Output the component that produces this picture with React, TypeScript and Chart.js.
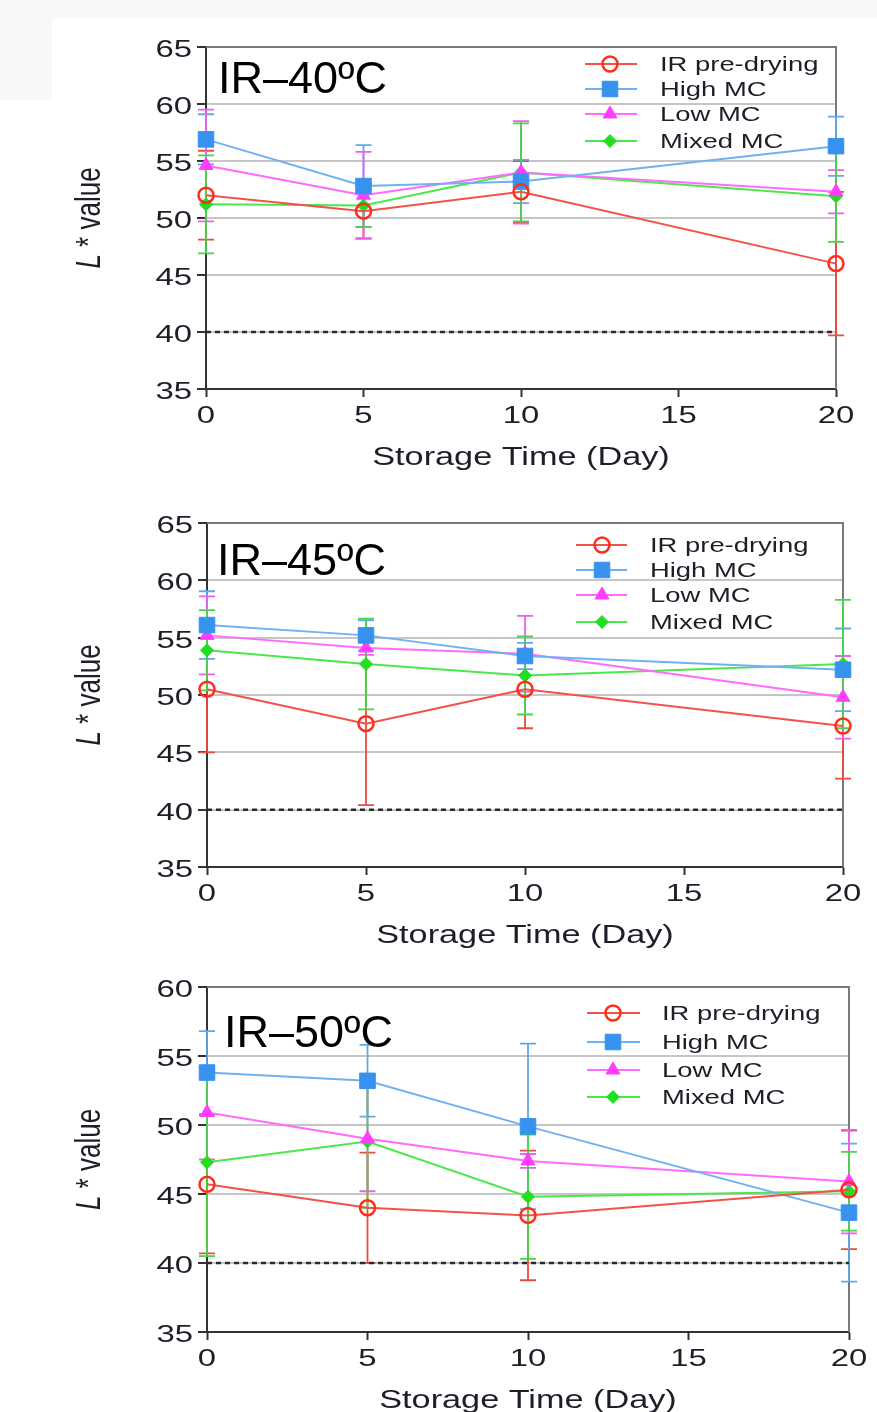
import React, { useEffect, useRef } from 'react';
import { Chart, registerables } from 'chart.js';

Chart.register(...registerables);

// ---------- data ----------
const DAYS = [0, 5, 10, 20];
const X_TICKS = [0, 5, 10, 15, 20];
const Y_TICKS_65 = [35, 40, 45, 50, 55, 60, 65];
const Y_TICKS_60 = [35, 40, 45, 50, 55, 60];
const THRESHOLD = 40;
const SERIES = ['IR pre-drying', 'High MC', 'Low MC', 'Mixed MC'];
const PANEL_TITLES = ['IR–40ºC', 'IR–45ºC', 'IR–50ºC'];
const X_TITLE = 'Storage Time (Day)';
const Y_TITLE_ITALIC = 'L';
const Y_TITLE_REST = ' * value';

// IR–40ºC
const IR40_MEAN = [52.0, 50.6, 52.3, 46.0];
const IR40_SD = [3.9, 2.4, 2.7, 6.3];
const HIGH40_MEAN = [56.9, 52.8, 53.2, 56.3];
const HIGH40_SD = [2.2, 3.6, 1.9, 2.6];
const LOW40_MEAN = [54.6, 52.0, 54.0, 52.3];
const LOW40_SD = [4.9, 3.8, 4.5, 1.9];
const MIXED40_MEAN = [51.2, 51.1, 54.0, 51.9];
const MIXED40_SD = [4.3, 1.9, 4.3, 4.0];

// IR–45ºC
const IR45_MEAN = [50.5, 47.5, 50.5, 47.3];
const IR45_SD = [5.5, 7.1, 3.4, 4.6];
const HIGH45_MEAN = [56.1, 55.2, 53.4, 52.2];
const HIGH45_SD = [2.95, 1.3, 1.15, 3.6];
const LOW45_MEAN = [55.2, 54.1, 53.6, 49.8];
const LOW45_SD = [3.4, 0.6, 3.3, 3.6];
const MIXED45_MEAN = [53.9, 52.7, 51.7, 52.7];
const MIXED45_SD = [3.5, 3.95, 3.4, 5.6];

// IR–50ºC
const IR50_MEAN = [45.7, 44.0, 43.45, 45.3];
const IR50_SD = [5.0, 4.0, 4.7, 4.3];
const HIGH50_MEAN = [53.8, 53.2, 49.9, 43.65];
const HIGH50_SD = [3.0, 2.6, 6.0, 5.0];
const LOW50_MEAN = [50.9, 49.0, 47.4, 45.9];
const LOW50_SD = [3.4, 3.8, 0.5, 3.75];
const MIXED50_MEAN = [47.3, 48.8, 44.8, 45.2];
const MIXED50_SD = [6.8, 4.8, 4.5, 2.85];

// ---------- styles / layout ----------
const W = 877;
const SX = 1.37; // horizontal text stretch of the source image
const FONT = '"Liberation Sans", Arial, sans-serif';
const TEXT = '#1e1e28';

const STYLES = [
  { line: '#f2524a', point: '#ff2d1a', fill: 'rgba(0,0,0,0)', err: '#ee4a3e', style: 'circle', radius: 7.5, bw: 2.5 },
  { line: '#6fb2f2', point: '#3792ef', fill: '#3792ef', err: '#5fa8ee', style: 'rect', radius: 11, bw: 1 },
  { line: '#ff6bff', point: '#ff3cff', fill: '#ff3cff', err: '#ef5eef', style: 'triangle', radius: 8, bw: 1 },
  { line: '#4be84b', point: '#22dd22', fill: '#22dd22', err: '#45d645', style: 'rectRot', radius: 6.5, bw: 1 },
];

const PANELS = [
  {
    title: PANEL_TITLES[0], yMax: 65, yTicks: Y_TICKS_65,
    means: [IR40_MEAN, HIGH40_MEAN, LOW40_MEAN, MIXED40_MEAN],
    sds: [IR40_SD, HIGH40_SD, LOW40_SD, MIXED40_SD],
    geo: { offset: 0, height: 480, left: 206, right: 836, top: 47, bottom: 389,
      titleX: 218, titleY: 93, legLine: [585, 637], legMarker: 610, legText: 660, legRows: [64, 89, 114, 141] },
  },
  {
    title: PANEL_TITLES[1], yMax: 65, yTicks: Y_TICKS_65,
    means: [IR45_MEAN, HIGH45_MEAN, LOW45_MEAN, MIXED45_MEAN],
    sds: [IR45_SD, HIGH45_SD, LOW45_SD, MIXED45_SD],
    geo: { offset: 480, height: 480, left: 207, right: 843, top: 43, bottom: 387,
      titleX: 217, titleY: 95, legLine: [576, 627], legMarker: 602, legText: 650, legRows: [65, 90, 115, 142] },
  },
  {
    title: PANEL_TITLES[2], yMax: 60, yTicks: Y_TICKS_60,
    means: [IR50_MEAN, HIGH50_MEAN, LOW50_MEAN, MIXED50_MEAN],
    sds: [IR50_SD, HIGH50_SD, LOW50_SD, MIXED50_SD],
    geo: { offset: 960, height: 452, left: 207, right: 849, top: 27, bottom: 372,
      titleX: 224, titleY: 87, legLine: [587, 640], legMarker: 613, legText: 662, legRows: [53, 82, 110, 137] },
  },
];

function stretchText(ctx: any, text: string, x: number, y: number, font: string, align: string, color: string, sx = SX) {
  ctx.save();
  ctx.translate(x, y);
  ctx.scale(sx, 1);
  ctx.font = font;
  ctx.fillStyle = color;
  ctx.textAlign = align;
  ctx.textBaseline = 'alphabetic';
  ctx.fillText(text, 0, 0);
  ctx.restore();
}

function drawMarker(ctx: any, st: any, x: number, y: number) {
  const r = st.radius;
  ctx.save();
  ctx.beginPath();
  if (st.style === 'circle') {
    ctx.arc(x, y, r, 0, Math.PI * 2);
  } else if (st.style === 'rect') {
    const s = Math.SQRT1_2 * r;
    ctx.rect(x - s, y - s, 2 * s, 2 * s);
  } else if (st.style === 'triangle') {
    ctx.moveTo(x, y - r);
    ctx.lineTo(x + 0.866 * r, y + 0.5 * r);
    ctx.lineTo(x - 0.866 * r, y + 0.5 * r);
    ctx.closePath();
  } else {
    ctx.moveTo(x, y - r);
    ctx.lineTo(x + r, y);
    ctx.lineTo(x, y + r);
    ctx.lineTo(x - r, y);
    ctx.closePath();
  }
  ctx.fillStyle = st.fill;
  ctx.fill();
  ctx.lineWidth = st.bw;
  ctx.strokeStyle = st.point;
  ctx.stroke();
  ctx.restore();
}

function makePlugin(panel: any) {
  const g = panel.geo;
  return {
    id: 'decor',
    beforeDatasetsDraw(chart: any) {
      const { ctx, chartArea: a, scales } = chart;
      const xs = scales.x, ys = scales.y;
      // frame (top/right)
      ctx.save();
      ctx.strokeStyle = '#7a7a7a';
      ctx.lineWidth = 2;
      ctx.beginPath();
      ctx.moveTo(a.left, a.top);
      ctx.lineTo(a.right, a.top);
      ctx.lineTo(a.right, a.bottom);
      ctx.stroke();
      ctx.restore();
      // error bars
      chart.data.datasets.forEach((ds: any, di: number) => {
        if (!ds.errors) return;
        const st = STYLES[di];
        ctx.save();
        ctx.strokeStyle = st.err;
        ctx.lineWidth = 1.8;
        DAYS.forEach((d, i) => {
          const v = ds.means[i];
          const e = ds.errors[i];
          const x = xs.getPixelForValue(d);
          const y1 = ys.getPixelForValue(v + e);
          const y2 = ys.getPixelForValue(v - e);
          ctx.beginPath();
          ctx.moveTo(x, y1); ctx.lineTo(x, y2);
          ctx.moveTo(x - 8, y1); ctx.lineTo(x + 8, y1);
          ctx.moveTo(x - 8, y2); ctx.lineTo(x + 8, y2);
          ctx.stroke();
        });
        ctx.restore();
      });
    },
    afterDraw(chart: any) {
      const { ctx, chartArea: a, scales } = chart;
      const xs = scales.x, ys = scales.y;
      const tickFont = `24px ${FONT}`;
      ys.ticks.forEach((t: any) => {
        const y = ys.getPixelForValue(t.value);
        stretchText(ctx, String(t.value), a.left - 14, y + 10, tickFont, 'right', TEXT);
      });
      xs.ticks.forEach((t: any) => {
        const x = xs.getPixelForValue(t.value);
        stretchText(ctx, String(t.value), x, a.bottom + 34, tickFont, 'center', TEXT);
      });
      // x title
      stretchText(ctx, X_TITLE, (a.left + a.right) / 2, a.bottom + 76, `25px ${FONT}`, 'center', TEXT);
      // y title (rotated, italic L)
      ctx.save();
      ctx.translate(100, (a.top + a.bottom) / 2);
      ctx.scale(SX, 1);
      ctx.rotate(-Math.PI / 2);
      ctx.fillStyle = TEXT;
      ctx.textBaseline = 'alphabetic';
      ctx.textAlign = 'left';
      const fI = `italic 26px ${FONT}`;
      const fN = `26px ${FONT}`;
      ctx.font = fI;
      const w1 = ctx.measureText(Y_TITLE_ITALIC).width;
      ctx.font = fN;
      const w2 = ctx.measureText(Y_TITLE_REST).width;
      const x0 = -(w1 + w2) / 2;
      ctx.font = fI;
      ctx.fillText(Y_TITLE_ITALIC, x0, 0);
      ctx.font = fN;
      ctx.fillText(Y_TITLE_REST, x0 + w1, 0);
      ctx.restore();
      // panel title
      ctx.save();
      ctx.font = `45px ${FONT}`;
      ctx.fillStyle = '#000';
      ctx.textAlign = 'left';
      ctx.textBaseline = 'alphabetic';
      ctx.fillText(panel.title, g.titleX, g.titleY);
      ctx.restore();
      // legend
      SERIES.forEach((name, i) => {
        const st = STYLES[i];
        const y = g.legRows[i];
        ctx.save();
        ctx.strokeStyle = st.line;
        ctx.lineWidth = 2;
        ctx.beginPath();
        ctx.moveTo(g.legLine[0], y);
        ctx.lineTo(g.legLine[1], y);
        ctx.stroke();
        ctx.restore();
        drawMarker(ctx, st, g.legMarker, y);
        stretchText(ctx, name, g.legText, y + 7, `20px ${FONT}`, 'left', TEXT);
      });
    },
  };
}

function Panel({ panel }: { panel: any }) {
  const ref = useRef<HTMLCanvasElement | null>(null);
  useEffect(() => {
    const g = panel.geo;
    const datasets: any[] = SERIES.map((name, i) => {
      const st = STYLES[i];
      return {
        label: name,
        data: DAYS.map((d, k) => ({ x: d, y: panel.means[i][k] })),
        means: panel.means[i],
        errors: panel.sds[i],
        borderColor: st.line,
        borderWidth: 2,
        pointStyle: st.style,
        pointRadius: st.radius,
        pointBackgroundColor: st.fill,
        pointBorderColor: st.point,
        pointBorderWidth: st.bw,
        tension: 0,
        clip: false,
        order: 0,
      };
    });
    datasets.push({
      label: 'threshold',
      data: [{ x: X_TICKS[0], y: THRESHOLD }, { x: X_TICKS[X_TICKS.length - 1], y: THRESHOLD }],
      borderColor: '#2a2a2a',
      borderWidth: 2.5,
      borderDash: [5, 4],
      pointRadius: 0,
      clip: false,
      order: 10,
    });
    const chart = new Chart(ref.current as HTMLCanvasElement, {
      type: 'line',
      data: { datasets },
      options: {
        responsive: false,
        animation: false,
        events: [],
        layout: { padding: { top: g.top, left: 0, right: W - g.right, bottom: 0 } },
        plugins: { legend: { display: false }, tooltip: { enabled: false } },
        scales: {
          x: {
            type: 'linear',
            min: X_TICKS[0],
            max: X_TICKS[X_TICKS.length - 1],
            afterBuildTicks: (s: any) => { s.ticks = X_TICKS.map((v) => ({ value: v })); },
            afterFit: (s: any) => { s.height = g.height - g.bottom; },
            ticks: { display: false },
            grid: { drawOnChartArea: false, drawTicks: true, tickLength: 8, tickColor: '#333', tickWidth: 2 },
            border: { display: true, color: '#333', width: 2 },
          },
          y: {
            type: 'linear',
            min: panel.yTicks[0],
            max: panel.yMax,
            afterBuildTicks: (s: any) => { s.ticks = panel.yTicks.map((v: number) => ({ value: v })); },
            afterFit: (s: any) => { s.width = g.left; },
            ticks: { display: false },
            grid: {
              color: (c: any) => (c.tick && c.tick.value === panel.yMax ? '#7a7a7a' : '#c6c6c6'),
              lineWidth: 2,
              drawTicks: true,
              tickLength: 9,
              tickColor: '#333',
              tickWidth: 2,
            },
            border: { display: true, color: '#333', width: 2 },
          },
        },
      },
      plugins: [makePlugin(panel)],
    } as any);
    return () => chart.destroy();
  }, [panel]);
  const g = panel.geo;
  return (
    <div style={{ position: 'absolute', left: 0, top: g.offset, width: W, height: g.height }}>
      <canvas ref={ref} width={W} height={g.height} style={{ display: 'block', width: W, height: g.height }} />
    </div>
  );
}

export default function App() {
  return (
    <div style={{ position: 'absolute', left: 0, top: 0, width: W, height: 1412, background: '#fff', overflow: 'hidden' }}>
      <div style={{ position: 'absolute', left: 0, top: 0, width: W, height: 18, background: '#f7f8fa' }} />
      <div style={{ position: 'absolute', left: 0, top: 0, width: 52, height: 100, background: '#f7f8fa' }} />
      {PANELS.map((p, i) => (
        <Panel key={i} panel={p} />
      ))}
    </div>
  );
}
